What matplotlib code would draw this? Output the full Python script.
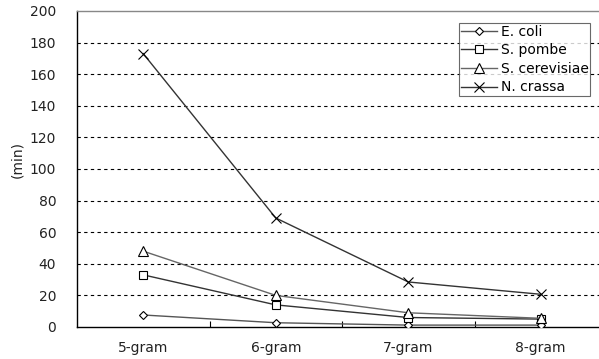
import matplotlib
matplotlib.use("Agg")
import matplotlib.pyplot as plt

categories = ["5-gram", "6-gram", "7-gram", "8-gram"]
ecoli = [7.6, 2.7, 1.2, 1.2]
spombe = [33, 14, 6, 5]
scerevisiae = [48, 20, 9, 5.5]
ncrassa = [173, 69, 28.5, 20.7]
yticks = [0, 20, 40, 60, 80, 100, 120, 140, 160, 180, 200]

plt.rcParams['font.family'] = ['DejaVu Sans']

fig = plt.figure(figsize=(5.99, 3.59), dpi=100)
W, H = 599, 359
ax = fig.add_axes([77 / W, 1 - 327 / H, (607 - 77) / W, (327 - 11) / H])

x = list(range(len(categories)))
series = [
    ("E. coli", ecoli, "D", 4.5, "#555555"),
    ("S. pombe", spombe, "s", 6, "#333333"),
    ("S. cerevisiae", scerevisiae, "^", 7, "#666666"),
    ("N. crassa", ncrassa, "x", 6.5, "#333333"),
]
for name, vals, m, ms, col in series:
    ax.plot(x, vals, color=col, lw=1.0, marker=m, markersize=ms,
            markerfacecolor="white", markeredgecolor="black",
            markeredgewidth=0.8, label=name, zorder=3)

ax.set_xlim(-0.5, 3.5)
ax.set_ylim(0, 200)
ax.set_yticks(yticks)
ax.set_yticklabels([str(v) for v in yticks], fontsize=10, color="#222222")
ax.tick_params(axis="y", length=0, pad=15)
ax.set_xticks(x)
ax.set_xticklabels(categories, fontsize=10, color="#222222")
ax.tick_params(axis="x", length=0, pad=10)
ax.set_xticks([0.5, 1.5, 2.5], minor=True)
ax.tick_params(axis="x", which="minor", direction="in", length=4, width=0.8)

for v in yticks[1:-1]:
    ax.axhline(v, color="black", lw=0.8, ls=(0, (3, 3)), zorder=1)

ax.spines["top"].set_color("#888888")
ax.spines["top"].set_linewidth(1.0)
ax.spines["right"].set_visible(False)
ax.spines["left"].set_linewidth(1.0)
ax.spines["bottom"].set_linewidth(1.0)

fig.text(17 / W, 1 - 160 / H, "(min)", rotation=90, fontsize=10,
         ha="center", va="center", color="#222222")

leg = ax.legend(loc="upper left", bbox_to_anchor=((459 - 77) / (607 - 77), 1 - (23 - 11) / 316),
                fontsize=10, frameon=True, fancybox=False, handlelength=2.6,
                handletextpad=0.3, borderpad=0.12, labelspacing=0.33, borderaxespad=0)
leg.get_frame().set_edgecolor("#444444")
leg.get_frame().set_linewidth(0.8)

fig.savefig("out.png", dpi=100)
